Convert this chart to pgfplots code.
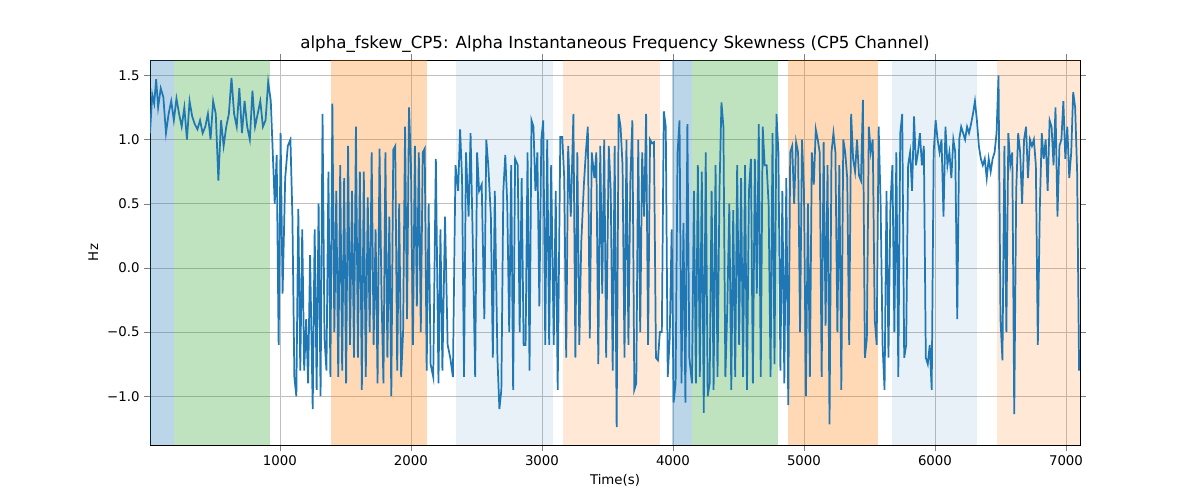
\documentclass[border=0pt]{standalone}
\usepackage{pgfplots}
\pgfplotsset{compat=1.18}
\usepackage{fontspec}
\setmainfont{DejaVu Sans}
\definecolor{tb}{HTML}{1F77B4}
\definecolor{tg}{HTML}{2CA02C}
\definecolor{to}{HTML}{FF7F0E}
\begin{document}
\begin{tikzpicture}
\useasboundingbox (0,0) rectangle (900pt,375pt);
\begin{axis}[at={(112.5pt,41.25pt)},anchor=south west,scale only axis,
width=697.5pt,height=288.75pt,xmin=8,xmax=7107,ymin=-1.38,ymax=1.62,
xtick={1000,2000,3000,4000,5000,6000,7000},ytick={-1,-0.5,0,0.5,1,1.5},
xticklabels={1000,2000,3000,4000,5000,6000,7000},
yticklabels={−1.0,−0.5,0.0,0.5,1.0,1.5},
grid=major,grid style={gray!50},tick align=outside,
ticklabel style={font=\fontsize{10}{12}\selectfont},
xlabel={Time(s)},ylabel={Hz},label style={font=\fontsize{10}{12}\selectfont},
title={alpha\_fskew\_CP5: Alpha Instantaneous Frequency Skewness (CP5 Channel)},
title style={font=\fontsize{12.5}{14}\selectfont,yshift=-4pt}]
\fill[tb,opacity=0.3] (8,-1.38) rectangle (191,1.62);
\fill[tg,opacity=0.3] (191,-1.38) rectangle (924,1.62);
\fill[to,opacity=0.3] (1389,-1.38) rectangle (2122,1.62);
\fill[tb,opacity=0.1] (2344,-1.38) rectangle (3084,1.62);
\fill[to,opacity=0.17] (3160,-1.38) rectangle (3901,1.62);
\fill[tb,opacity=0.3] (3992,-1.38) rectangle (4145,1.62);
\fill[tg,opacity=0.3] (4145,-1.38) rectangle (4802,1.62);
\fill[to,opacity=0.3] (4878,-1.38) rectangle (5565,1.62);
\fill[tb,opacity=0.1] (5672,-1.38) rectangle (6321,1.62);
\fill[to,opacity=0.17] (6473,-1.38) rectangle (7107,1.62);
\addplot[tb,line width=1.3pt] coordinates {
(8,1.05)(25,1.35)(40,1.28)(55,1.47)(70,1.25)(90,1.4)(110,1.33)(130,1.05)(150,1.2)(170,1.3)(190,1.15)(210,1.32)(230,1.2)(250,1.1)(270,1.25)(290,1.0)(310,1.3)(330,1.18)(350,1.12)(370,1.08)(390,1.15)(410,1.05)(430,1.1)(450,1.2)(470,1.0)(490,1.3)(510,1.2)(530,0.68)(550,1.15)(570,0.95)(590,1.1)(610,1.2)(630,1.48)(650,1.2)(670,1.1)(690,1.4)(710,1.05)(730,1.3)(750,1.1)(770,1.0)(790,1.38)(810,1.1)(830,1.2)(850,1.3)(870,1.1)(890,1.15)(910,1.45)(930,1.3)(960,0.5)(975,0.88)(990,-0.6)(1005,1.05)(1020,-0.2)(1040,0.7)(1060,0.95)(1080,1.0)(1095,0.4)(1110,-0.85)(1125,-1.0)(1140,0.46)(1155,-0.8)(1170,0.3)(1185,-0.8)(1200,-0.4)(1215,-0.9)(1230,0.1)(1250,-1.1)(1265,0.3)(1280,-0.95)(1295,0.5)(1310,-1.0)(1325,1.2)(1340,-0.55)(1355,-0.8)(1370,0.75)(1385,-0.85)(1400,1.28)(1415,-0.5)(1430,0.6)(1445,-0.85)(1460,0.8)(1475,-0.8)(1490,0.7)(1505,-0.9)(1520,0.95)(1535,-0.6)(1550,0.6)(1565,-0.7)(1580,1.1)(1595,-0.7)(1610,0.75)(1625,-0.95)(1640,0.75)(1655,-0.85)(1670,0.55)(1685,-0.5)(1700,0.9)(1715,-0.6)(1730,0.3)(1745,-0.9)(1760,0.93)(1775,-0.2)(1790,-0.9)(1805,0.9)(1820,-0.7)(1835,0.4)(1850,-1.0)(1865,0.92)(1880,0.95)(1895,-0.8)(1910,0.5)(1925,-0.85)(1940,-0.5)(1955,1.1)(1970,-0.4)(1985,1.25)(2000,0.8)(2015,-0.6)(2030,0.95)(2045,-0.3)(2060,0.9)(2075,-0.5)(2090,0.9)(2105,0.93)(2120,-0.8)(2135,0.5)(2150,-0.75)(2170,-0.85)(2190,0.85)(2210,-0.9)(2225,0.3)(2240,-0.8)(2260,0.4)(2280,-0.6)(2300,-0.7)(2320,-0.85)(2340,0.8)(2360,0.6)(2375,1.08)(2390,0.7)(2405,-0.85)(2420,0.9)(2440,0.4)(2455,1.05)(2470,0.3)(2490,-0.85)(2505,0.9)(2520,0.6)(2540,0.65)(2560,-0.4)(2575,1.0)(2590,0.8)(2610,0.4)(2625,-0.7)(2640,0.6)(2660,-0.7)(2675,-1.1)(2690,-0.95)(2705,0.6)(2720,0.88)(2735,0.5)(2750,-0.5)(2765,0.8)(2780,-0.95)(2795,0.85)(2815,0.8)(2830,-0.5)(2845,0.7)(2860,-0.6)(2875,-0.6)(2890,0.9)(2905,-0.8)(2920,1.15)(2935,1.1)(2950,0.6)(2965,0.9)(2980,-0.3)(2995,1.0)(3010,1.15)(3025,-0.6)(3040,1.0)(3055,-0.6)(3070,0.8)(3090,-0.6)(3105,0.6)(3120,-0.95)(3140,1.02)(3155,1.02)(3170,0.7)(3185,-0.7)(3200,0.95)(3220,0.4)(3240,1.2)(3255,-0.7)(3270,0.9)(3285,-0.6)(3300,0.2)(3320,0.65)(3335,0.9)(3350,1.1)(3365,-0.55)(3380,0.9)(3400,0.7)(3415,0.9)(3430,-0.75)(3445,0.95)(3460,-0.2)(3475,1.0)(3490,-0.7)(3510,0.95)(3525,0.6)(3540,-0.8)(3555,0.95)(3570,-1.24)(3585,1.2)(3600,1.1)(3615,0.8)(3630,-0.7)(3645,1.0)(3660,-0.6)(3675,0.7)(3690,1.15)(3705,-0.95)(3720,-0.9)(3735,1.0)(3750,-0.5)(3765,0.9)(3780,0.4)(3795,1.2)(3810,-0.6)(3825,1.0)(3840,0.97)(3855,0.98)(3870,-0.7)(3885,-0.72)(3900,-0.5)(3915,-0.5)(3930,1.22)(3945,1.1)(3960,-0.85)(3975,-0.55)(3990,0.3)(4005,-1.05)(4020,-0.9)(4035,0.9)(4050,1.15)(4065,-0.9)(4080,0.35)(4095,-1.05)(4110,1.12)(4125,-0.7)(4145,-0.9)(4160,0.6)(4175,-0.9)(4190,0.8)(4205,-0.85)(4220,0.75)(4235,-1.13)(4250,0.9)(4265,-1.0)(4280,-0.9)(4295,0.6)(4310,-0.95)(4325,0.8)(4340,-0.85)(4355,0.6)(4370,1.29)(4385,1.1)(4400,-0.85)(4415,-0.3)(4430,0.5)(4445,-0.95)(4460,0.45)(4475,-0.85)(4490,0.8)(4505,-0.6)(4520,0.7)(4535,-0.85)(4550,0.8)(4565,-0.95)(4580,0.6)(4595,0.85)(4610,-0.9)(4625,0.85)(4640,-0.2)(4655,1.12)(4670,-0.85)(4685,1.1)(4700,0.8)(4715,0.8)(4730,0.5)(4745,-0.85)(4760,1.05)(4775,-0.75)(4790,1.2)(4805,0.9)(4820,-0.8)(4835,0.6)(4850,-0.9)(4865,0.7)(4880,-1.07)(4895,0.9)(4910,0.95)(4925,0.5)(4940,0.98)(4955,0.9)(4970,-0.5)(4985,1.0)(5000,0.6)(5015,-1.0)(5030,0.5)(5045,-0.85)(5060,0.9)(5075,0.65)(5090,1.08)(5105,1.0)(5120,0.9)(5135,-0.85)(5150,0.98)(5165,-0.45)(5180,0.8)(5195,-1.22)(5210,0.9)(5225,1.05)(5240,0.9)(5255,-0.5)(5270,0.8)(5285,-0.95)(5300,1.0)(5315,0.9)(5330,0.7)(5345,-0.6)(5360,1.2)(5375,0.85)(5390,0.75)(5405,1.0)(5420,0.72)(5435,0.68)(5450,1.31)(5465,-0.7)(5480,-0.55)(5495,1.1)(5510,0.9)(5525,1.0)(5540,-0.4)(5555,-0.6)(5570,1.1)(5585,0.5)(5600,-0.6)(5615,-0.95)(5630,0.6)(5645,-0.7)(5660,0.5)(5675,0.8)(5690,-0.5)(5705,0.9)(5720,-0.85)(5735,1.05)(5750,1.2)(5765,-0.7)(5780,-0.6)(5795,0.8)(5810,0.9)(5825,0.6)(5840,1.18)(5855,0.8)(5870,0.9)(5885,1.05)(5900,0.8)(5915,0.95)(5930,-0.7)(5945,-0.75)(5960,-0.6)(5975,-0.95)(5990,0.9)(6005,1.15)(6020,1.0)(6035,0.9)(6050,1.0)(6065,0.4)(6080,1.1)(6095,0.8)(6110,0.9)(6125,0.7)(6140,1.0)(6155,0.9)(6170,-0.4)(6185,1.0)(6200,1.1)(6215,1.05)(6230,1.0)(6245,1.1)(6260,1.05)(6275,1.12)(6290,1.2)(6305,1.3)(6320,1.15)(6335,0.95)(6350,0.85)(6365,0.8)(6380,0.85)(6395,0.7)(6410,0.85)(6425,0.75)(6440,0.85)(6455,0.9)(6470,1.05)(6485,1.5)(6500,-0.4)(6515,-0.72)(6530,0.95)(6545,-0.5)(6560,1.05)(6575,0.8)(6590,0.9)(6605,-1.14)(6620,0.6)(6635,1.05)(6650,0.9)(6665,0.5)(6680,1.0)(6695,1.1)(6710,0.7)(6725,1.0)(6740,0.95)(6755,1.0)(6770,0.8)(6785,-0.6)(6800,0.45)(6815,1.05)(6830,0.85)(6845,1.0)(6860,0.6)(6875,1.15)(6890,1.1)(6905,0.8)(6920,1.25)(6935,0.4)(6950,0.95)(6965,1.0)(6980,1.3)(6995,0.85)(7010,1.1)(7025,0.7)(7040,0.9)(7055,1.37)(7070,1.25)(7085,0.75)(7100,-0.8)
};
\end{axis}
\end{tikzpicture}
\end{document}
